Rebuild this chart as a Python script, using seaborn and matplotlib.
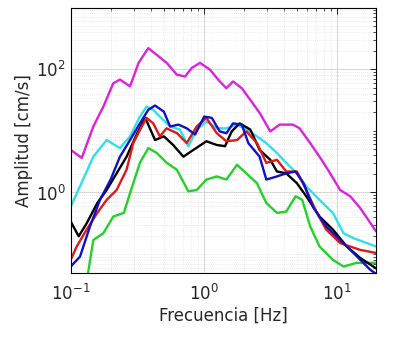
import numpy as np
import pandas as pd
import matplotlib
matplotlib.use("Agg")
import matplotlib.pyplot as plt
import seaborn as sns
from matplotlib.ticker import LogLocator, NullFormatter

# Fourier amplitude spectra: log10(frequency in Hz) and log10(amplitude in cm/s)
mag_logf = [-1.0, -0.917, -0.83, -0.755, -0.68, -0.63, -0.554, -0.49, -0.417, -0.353, -0.278,
            -0.203, -0.14, -0.09, -0.028, 0.047, 0.12, 0.17, 0.22, 0.286, 0.35, 0.42, 0.50,
            0.57, 0.67, 0.72, 0.80, 0.87, 0.95, 1.025, 1.10, 1.175, 1.295]
mag_logA = [0.69, 0.56, 1.07, 1.39, 1.77, 1.83, 1.72, 2.10, 2.34, 2.23, 2.10,
            1.91, 1.88, 2.02, 2.10, 1.99, 1.80, 1.69, 1.80, 1.69, 1.50, 1.29, 0.99,
            1.10, 1.10, 1.04, 0.80, 0.58, 0.31, 0.04, -0.06, -0.25, -0.63]

cya_logf = [-1.0, -0.93, -0.83, -0.73, -0.63, -0.554, -0.48, -0.43, -0.38, -0.33, -0.253,
            -0.18, -0.116, -0.053, 0.02, 0.098, 0.17, 0.25, 0.32, 0.40, 0.47, 0.55, 0.62,
            0.70, 0.77, 0.87, 0.97, 1.05, 1.125, 1.295]
cya_logA = [-0.23, 0.10, 0.58, 0.85, 0.72, 0.91, 1.23, 1.39, 1.34, 1.23, 1.07,
            1.02, 0.75, 1.02, 1.15, 1.04, 1.04, 1.10, 1.02, 0.91, 0.80, 0.64, 0.48,
            0.31, 0.10, -0.12, -0.33, -0.66, -0.74, -0.875]

blu_logf = [-1.0, -0.93, -0.855, -0.78, -0.70, -0.63, -0.554, -0.48, -0.417, -0.366, -0.30,
            -0.253, -0.19, -0.128, -0.065, 0.003, 0.06, 0.12, 0.17, 0.22, 0.286, 0.335, 0.42,
            0.47, 0.55, 0.62, 0.69, 0.75, 0.82, 0.92, 1.025, 1.125, 1.25, 1.295]
blu_logA = [-1.2, -1.04, -0.55, -0.12, 0.21, 0.58, 0.85, 1.12, 1.34, 1.41, 1.31,
            1.07, 1.10, 1.04, 0.94, 1.23, 1.21, 0.99, 0.96, 1.12, 1.10, 0.80, 0.58,
            0.21, 0.26, 0.31, 0.34, 0.15, -0.23, -0.55, -0.77, -0.98, -1.25, -1.32]

red_logf = [-1.0, -0.955, -0.88, -0.80, -0.73, -0.655, -0.58, -0.53, -0.466, -0.43, -0.38,
            -0.33, -0.28, -0.20, -0.128, -0.053, 0.02, 0.098, 0.17, 0.25, 0.32, 0.40, 0.47,
            0.55, 0.62, 0.70, 0.77, 0.85, 0.92, 1.025, 1.175, 1.295]
red_logA = [-1.09, -0.875, -0.60, -0.33, -0.12, 0.04, 0.37, 0.80, 1.07, 1.21, 1.12,
            0.91, 1.04, 0.96, 0.80, 1.07, 1.21, 0.96, 0.83, 0.85, 0.99, 0.80, 0.48,
            0.53, 0.34, 0.34, 0.04, -0.33, -0.60, -0.82, -0.93, -0.98]

blk_logf = [-1.0, -0.94, -0.88, -0.80, -0.73, -0.655, -0.58, -0.50, -0.44, -0.366, -0.30,
            -0.23, -0.153, -0.078, 0.02, 0.098, 0.16, 0.21, 0.27, 0.35, 0.42, 0.50, 0.55,
            0.62, 0.70, 0.77, 0.87, 0.97, 1.075, 1.175, 1.295]
blk_logA = [-0.47, -0.71, -0.50, -0.17, 0.04, 0.31, 0.58, 0.96, 1.21, 0.85, 0.91,
            0.77, 0.58, 0.69, 0.83, 0.77, 0.75, 0.99, 1.12, 1.02, 0.69, 0.53, 0.34,
            0.31, 0.15, -0.06, -0.39, -0.60, -0.875, -1.06, -1.23]

grn_logf = [-0.87, -0.83, -0.755, -0.68, -0.60, -0.554, -0.48, -0.417, -0.353, -0.278, -0.203,
            -0.116, -0.053, 0.02, 0.098, 0.17, 0.25, 0.32, 0.40, 0.47, 0.55, 0.62, 0.69,
            0.74, 0.80, 0.87, 0.97, 1.05, 1.15, 1.295]
grn_logA = [-1.31, -0.77, -0.66, -0.39, -0.33, -0.01, 0.48, 0.72, 0.64, 0.48, 0.37,
            0.02, 0.04, 0.21, 0.26, 0.21, 0.45, 0.31, 0.15, -0.17, -0.33, -0.31, -0.06,
            -0.12, -0.55, -0.875, -1.09, -1.20, -1.14, -1.14]

series = [
    ("m", mag_logf, mag_logA, "#DC22DC"),
    ("c", cya_logf, cya_logA, "#2FE0E6"),
    ("g", grn_logf, grn_logA, "#22D22A"),
    ("k", blk_logf, blk_logA, "#000000"),
    ("r", red_logf, red_logA, "#E01818"),
    ("b", blu_logf, blu_logA, "#1010C8"),
]

frames = []
for name, lf, la, _ in series:
    frames.append(pd.DataFrame({"serie": name,
                                "f": 10 ** np.array(lf),
                                "A": 10 ** np.array(la)}))
df = pd.concat(frames, ignore_index=True)
palette = {name: col for name, _, _, col in series}

sns.set_style("white")
plt.rcParams["font.family"] = ["DejaVu Sans"]

fig = plt.figure(figsize=(4.19, 3.44), dpi=100)
ax = fig.add_axes([70.7 / 419, 1 - 272.7 / 344, (376 - 70.7) / 419, (272.7 - 8) / 344])

sns.lineplot(data=df, x="f", y="A", hue="serie", palette=palette, sort=False,
             estimator=None, linewidth=1.7, legend=False, ax=ax)

ax.set_xscale("log")
ax.set_yscale("log")
ax.set_xlim(0.1, 19.7)
ax.set_ylim(10 ** -1.3, 10 ** 2.99)

ax.xaxis.set_major_locator(LogLocator(base=10, numticks=10))
ax.yaxis.set_major_locator(LogLocator(base=100, numticks=10))
ax.xaxis.set_minor_locator(LogLocator(base=10, subs=np.arange(2, 10), numticks=20))
ax.yaxis.set_minor_locator(LogLocator(base=10, subs=np.arange(1, 10), numticks=20))
ax.xaxis.set_minor_formatter(NullFormatter())
ax.yaxis.set_minor_formatter(NullFormatter())

ax.grid(True, which="major", color="#d0d0d0", linewidth=0.6)
ax.grid(True, which="minor", color="#d8d8d8", linewidth=0.5, linestyle=(0, (1, 2)))
ax.set_axisbelow(True)

for s in ax.spines.values():
    s.set_color("black")
    s.set_linewidth(0.8)

ax.tick_params(which="both", direction="in", top=True, right=True, colors="black",
               labelcolor="#262626", labelsize=12)
ax.tick_params(which="major", length=4, width=0.6)
ax.tick_params(which="minor", length=2, width=0.5)
ax.tick_params(axis="x", pad=8)

ax.set_xlabel("Frecuencia [Hz]", fontsize=12, color="#262626", labelpad=2)
ax.set_ylabel("Amplitud [cm/s]", fontsize=12, color="#262626", labelpad=2)

fig.savefig("out.png", dpi=100, facecolor="white")
